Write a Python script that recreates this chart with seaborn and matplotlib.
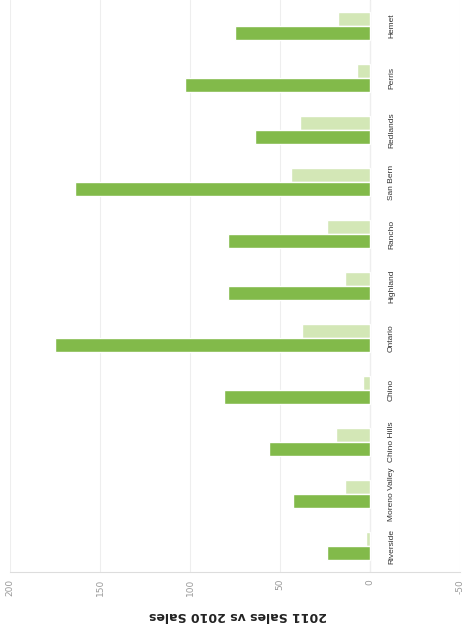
import matplotlib
matplotlib.use("Agg")
import matplotlib.pyplot as plt
import seaborn as sns
import pandas as pd

cities = ["Hemet", "Perris", "Redlands", "San Bern", "Rancho", "Highland",
          "Ontario", "Chino", "Chino Hills", "Moreno Valley", "Riverside"]
sales_2010 = [18, 7, 39, 44, 24, 14, 38, 4, 19, 14, 2]
sales_2011 = [75, 103, 64, 164, 79, 79, 175, 81, 56, 43, 24]
years = ["2010", "2011"]
value_ticks = [200, 150, 100, 50, 0, -50]
title = "2011 Sales vs 2010 Sales"

df = pd.DataFrame({
    "City": cities * 2,
    "Sales": sales_2010 + sales_2011,
    "Year": [years[0]] * len(cities) + [years[1]] * len(cities),
})

sns.set_style("white")
plt.rcParams['font.family'] = ['DejaVu Sans']

fig = plt.figure(figsize=(4.63, 6.28), dpi=100)
ax = fig.add_axes([10 / 463, 56 / 628, 450 / 463, 572 / 628])

sns.barplot(data=df, y="City", x="Sales", hue="Year", order=cities,
            hue_order=years, palette=["#d3e7b6", "#82ba4a"], width=0.56,
            orient="h", ax=ax, legend=False, saturation=1, gap=0.05)

ax.set_xlim(200, -50)
ax.set_ylim(10.5, -0.5)
ax.set_xticks(value_ticks)
ax.set_xticklabels([str(v) for v in value_ticks], rotation=90, fontsize=6.5,
                   color="#9a9a9a")
ax.tick_params(axis="x", length=0, pad=5)
ax.set_yticks([])
ax.set_xlabel("")
ax.set_ylabel("")
ax.grid(axis="x", color="#eeeeee", lw=0.8)
ax.set_axisbelow(True)
for s in ["top", "left", "right"]:
    ax.spines[s].set_visible(False)
ax.spines["bottom"].set_color("#dddddd")
ax.axvline(0, color="#cccccc", lw=0.8, zorder=0.5)

for i, c in enumerate(cities):
    ax.text(-12, i, c, rotation=90, ha="center", va="center", fontsize=6,
            color="#333333", family="Liberation Sans")

fig.text(238 / 463, 1 - 616 / 628, title, rotation=180, fontweight="bold",
         fontsize=9, ha="center", va="center", color="#222222")

fig.savefig("out.png", dpi=100)
